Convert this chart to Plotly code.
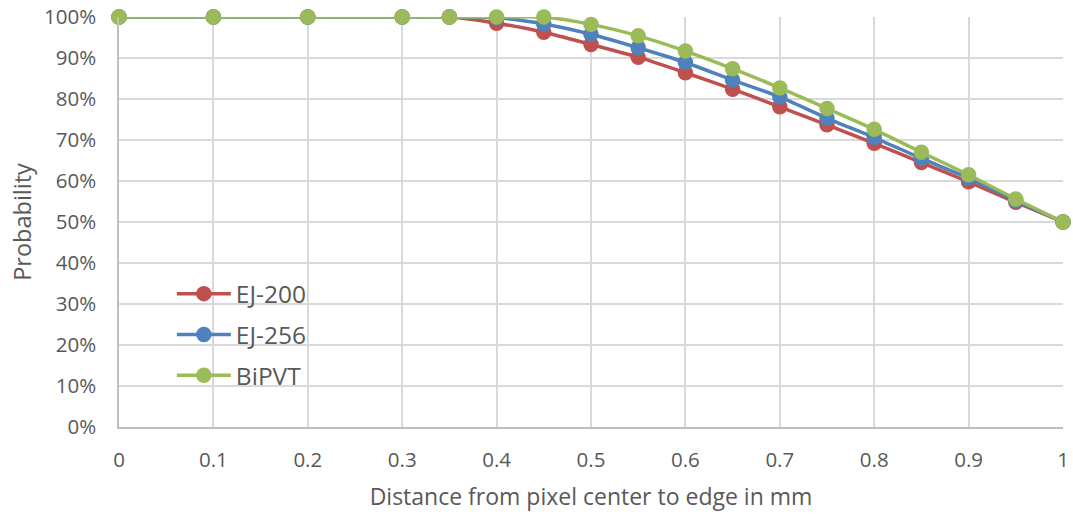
import plotly.graph_objects as go

# Distance from pixel center (mm) and detection probability per scintillator
distance = [0, 0.1, 0.2, 0.3, 0.35, 0.4, 0.45, 0.5, 0.55, 0.6, 0.65, 0.7, 0.75, 0.8, 0.85, 0.9, 0.95, 1.0]
ej200 = [1.0, 1.0, 1.0, 1.0, 1.0, 0.985, 0.963, 0.933, 0.902, 0.864, 0.824, 0.781, 0.737, 0.692, 0.645, 0.598, 0.548, 0.50]
ej256 = [1.0, 1.0, 1.0, 1.0, 1.0, 0.998, 0.983, 0.958, 0.925, 0.889, 0.846, 0.805, 0.753, 0.706, 0.655, 0.607, 0.552, 0.50]
bipvt = [1.0, 1.0, 1.0, 1.0, 1.0, 1.0, 1.0, 0.982, 0.954, 0.917, 0.874, 0.827, 0.777, 0.726, 0.670, 0.615, 0.556, 0.50]

x_ticks = [0, 0.1, 0.2, 0.3, 0.4, 0.5, 0.6, 0.7, 0.8, 0.9, 1.0]
x_tick_text = ["0", "0.1", "0.2", "0.3", "0.4", "0.5", "0.6", "0.7", "0.8", "0.9", "1"]
y_ticks = [i / 10 for i in range(11)]

series = [
    ("EJ-200", ej200, "#C0504D"),
    ("EJ-256", ej256, "#4F81BD"),
    ("BiPVT", bipvt, "#9BBB59"),
]

FONT = "Open Sans"
TEXT = "#595959"

fig = go.Figure()
for name, vals, color in series:
    fig.add_trace(go.Scatter(
        x=distance, y=vals, name=name, legendgroup=name,
        mode="lines+markers",
        line=dict(color=color, width=3.5, shape="spline", smoothing=0.6),
        marker=dict(color=color, size=15.5),
        cliponaxis=False,
    ))

fig.update_layout(
    width=1073, height=515,
    margin=dict(l=119, r=10, t=17, b=88, autoexpand=False),
    paper_bgcolor="white", plot_bgcolor="white",
    font=dict(family=FONT, color=TEXT, size=20.5),
    showlegend=True,
    legend=dict(
        x=0.056, y=0.38, xanchor="left", yanchor="top",
        bgcolor="rgba(0,0,0,0)", font=dict(size=24.5, color=TEXT, family=FONT),
        tracegroupgap=6, itemwidth=54,
    ),
    xaxis=dict(
        range=[0, 1], tickvals=x_ticks, ticktext=x_tick_text,
        showgrid=True, gridcolor="#D9D9D9", gridwidth=1.5,
        showline=True, linecolor="#BFBFBF", linewidth=1.5,
        zeroline=False, ticks="", ticklabelstandoff=14, automargin=False,
        title=dict(text="Distance from pixel center to edge in mm", font=dict(size=23, color=TEXT), standoff=17),
    ),
    yaxis=dict(
        range=[0, 1], tickvals=y_ticks, tickformat=".0%",
        showgrid=True, gridcolor="#D9D9D9", gridwidth=1.5,
        showline=True, linecolor="#BFBFBF", linewidth=1.5,
        zeroline=False, ticks="", ticklabelstandoff=17, automargin=False,
        title=dict(text="Probability", font=dict(size=23.5, color=TEXT), standoff=6),
    ),
)

fig.write_html("out.html")
